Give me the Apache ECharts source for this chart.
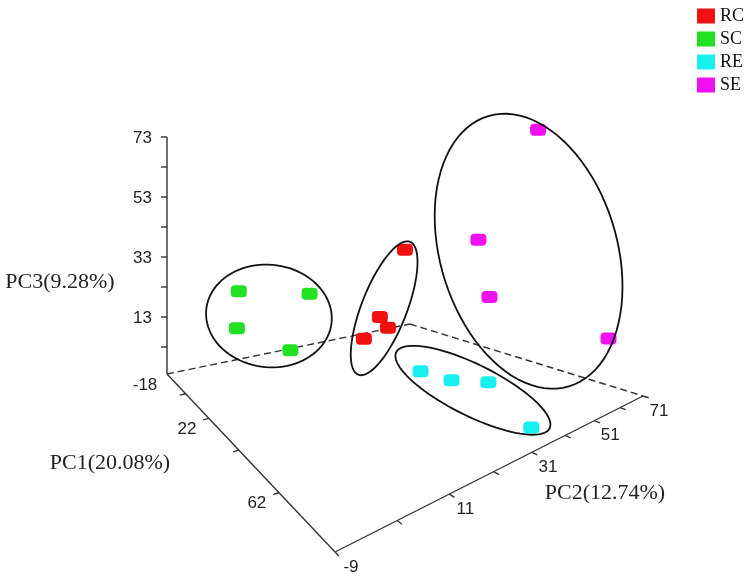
<!DOCTYPE html>
<html><head><meta charset="utf-8">
<script src="https://cdn.jsdelivr.net/npm/echarts@6/dist/echarts.min.js"></script>
<style>html,body{margin:0;padding:0;background:#fff}#chart{width:756px;height:584px}</style>
</head><body><div id="chart"></div>
<script>
// ---------------- data ----------------
const groups = ['RC', 'SC', 'RE', 'SE'];
const rcPC1 = [-13, -3, 2, 2];
const rcPC2 = [65.4, 48.9, 48.9, 40.2];
const rcPC3 = [29.2, 4.6, 1.4, -0.9];
const scPC1 = [-8, -8, -13, -3];
const scPC2 = [6.5, 6.0, 29.3, 19.1];
const scPC3 = [20.7, 8.2, 15.4, -1.3];
const rePC1 = [42, 52, 62, 80];
const rePC2 = [33.5, 35.4, 38.1, 33];
const rePC3 = [0.3, 0.1, 1.8, -1.8];
const sePC1 = [72, 42, 52, 77];
const sePC2 = [43.9, 52.8, 47.7, 63.7];
const sePC3 = [70.7, 38.5, 22, 11.4];

const pc1Range = [-18, 82];
const pc2Range = [-9, 71];
const pc3Range = [-6, 73];
const pc1Ticks = [2, 22, 42, 62];
const pc1Labels = [-18, 22, 62];
const pc2Ticks = [-9, 1, 11, 21, 31, 41, 51, 61, 71];
const pc2Labels = [-9, 11, 31, 51, 71];
const pc3Ticks = [3, 13, 23, 33, 43, 53, 63, 73];
const pc3Labels = [13, 33, 53, 73];
const axisNames = ['PC1(20.08%)', 'PC2(12.74%)', 'PC3(9.28%)'];

// ---------------- style / layout ----------------
const groupColors = ['#f01010', '#22e022', '#18f0f0', '#f010f0'];
const FLOOR = { A: [167, 374], B: [335, 552], C: [643, 396], D: [410, 324] };
const VTOP = 137;
const AXIS_COLOR = '#333';
const SANS = 'Liberation Sans, Arial, sans-serif';
const SERIF = 'Liberation Serif, Times New Roman, serif';
const ELL_K = 1.6, ELL_PAD = 12;

function homography(p0, p1, p2, p3) {
  const [x0, y0] = p0, [x1, y1] = p1, [x2, y2] = p2, [x3, y3] = p3;
  const dx1 = x1 - x2, dy1 = y1 - y2, dx2 = x3 - x2, dy2 = y3 - y2;
  const dx3 = x0 - x1 + x2 - x3, dy3 = y0 - y1 + y2 - y3;
  const den = dx1 * dy2 - dx2 * dy1;
  const g = (dx3 * dy2 - dx2 * dy3) / den;
  const h = (dx1 * dy3 - dx3 * dy1) / den;
  return {
    a: x1 - x0 + g * x1, b: x3 - x0 + h * x3, c: x0,
    d: y1 - y0 + g * y1, e: y3 - y0 + h * y3, f: y0, g, h
  };
}
const Hm = homography(FLOOR.A, FLOOR.B, FLOOR.C, FLOOR.D);
const vScale = FLOOR.A[1] - VTOP;

function project(p1, p2, p3) {
  const u = (p1 - pc1Range[0]) / (pc1Range[1] - pc1Range[0]);
  const v = (p2 - pc2Range[0]) / (pc2Range[1] - pc2Range[0]);
  const w = (p3 - pc3Range[0]) / (pc3Range[1] - pc3Range[0]);
  const den = Hm.g * u + Hm.h * v + 1;
  return [(Hm.a * u + Hm.b * v + Hm.c) / den, (Hm.d * u + Hm.e * v + Hm.f - vScale * w) / den];
}

const zip = (a, b, c) => a.map((x, i) => [x, b[i], c[i]]);
const groupData = [
  zip(rcPC1, rcPC2, rcPC3),
  zip(scPC1, scPC2, scPC3),
  zip(rePC1, rePC2, rePC3),
  zip(sePC1, sePC2, sePC3)
];

function line(p, q, dashed) {
  return {
    type: 'line', shape: { x1: p[0], y1: p[1], x2: q[0], y2: q[1] },
    style: { stroke: AXIS_COLOR, lineWidth: 1.4, lineDash: dashed ? [7, 4] : null }
  };
}
function text(str, x, y, font, align) {
  return {
    type: 'text', x: x, y: y,
    style: { text: str, font: font, fill: '#222', align: align || 'center', verticalAlign: 'middle' }
  };
}
function unitStep(p, q, len) {
  const dx = q[0] - p[0], dy = q[1] - p[1], l = Math.hypot(dx, dy);
  return [p[0] + dx / l * len, p[1] + dy / l * len];
}

function renderFrame() {
  const [x1min, x1max] = pc1Range, [x2min, x2max] = pc2Range, [x3min, x3max] = pc3Range;
  const A = project(x1min, x2min, x3min), B = project(x1max, x2min, x3min);
  const C = project(x1max, x2max, x3min), D = project(x1min, x2max, x3min);
  const T = project(x1min, x2min, x3max);
  const ch = [];
  ch.push(line(A, D, true), line(D, C, true));
  ch.push(line(A, B), line(B, C), line(A, T));
  pc3Ticks.forEach(t => {
    const p = project(x1min, x2min, t);
    ch.push(line([p[0] - 6, p[1]], p));
  });
  pc3Labels.forEach(t => {
    const p = project(x1min, x2min, t);
    ch.push(text(String(t), p[0] - 15, p[1] + 1, '17px ' + SANS, 'right'));
  });
  pc1Ticks.forEach(t => {
    const p = project(t, x2min, x3min);
    const q = unitStep(p, project(t, x2min - 5, x3min), 6);
    ch.push(line(p, q));
  });
  pc1Labels.forEach(t => {
    const p = project(t, x2min, x3min);
    ch.push(text(String(t), p[0] - 22, p[1] + 11, '17px ' + SANS));
  });
  pc2Ticks.forEach(t => {
    const p = project(x1max, t, x3min);
    const q = unitStep(p, project(x1max + 5, t, x3min), 6);
    ch.push(line(p, q));
  });
  pc2Labels.forEach(t => {
    const p = project(x1max, t, x3min);
    ch.push(text(String(t), p[0] + 16, p[1] + 15, '17px ' + SANS));
  });
  ch.push(text(axisNames[0], 110, 463, '22px ' + SERIF));
  ch.push(text(axisNames[1], 605, 493, '22px ' + SERIF));
  ch.push(text(axisNames[2], 60, 282, '22px ' + SERIF));
  return { type: 'group', children: ch };
}

function renderEllipses() {
  const ch = [];
  groupData.forEach(pts => {
    const pp = pts.map(d => project(d[0], d[1], d[2]));
    const n = pp.length;
    const mx = pp.reduce((s, p) => s + p[0], 0) / n;
    const my = pp.reduce((s, p) => s + p[1], 0) / n;
    let sxx = 0, syy = 0, sxy = 0;
    pp.forEach(p => { const dx = p[0] - mx, dy = p[1] - my; sxx += dx * dx; syy += dy * dy; sxy += dx * dy; });
    sxx /= n; syy /= n; sxy /= n;
    const ang = 0.5 * Math.atan2(2 * sxy, sxx - syy);
    const mean = (sxx + syy) / 2, diff = Math.sqrt(((sxx - syy) / 2) ** 2 + sxy * sxy);
    const r1 = ELL_K * Math.sqrt(mean + diff) + ELL_PAD;
    const r2 = ELL_K * Math.sqrt(Math.max(mean - diff, 0)) + ELL_PAD;
    const poly = [];
    for (let i = 0; i < 90; i++) {
      const t = i / 90 * Math.PI * 2;
      const ex = r1 * Math.cos(t), ey = r2 * Math.sin(t);
      poly.push([mx + ex * Math.cos(ang) - ey * Math.sin(ang), my + ex * Math.sin(ang) + ey * Math.cos(ang)]);
    }
    ch.push({ type: 'polygon', shape: { points: poly }, style: { fill: 'none', stroke: '#111', lineWidth: 1.8 } });
  });
  return { type: 'group', children: ch };
}

const chart = echarts.init(document.getElementById('chart'), null, { renderer: 'canvas' });
const series = [
  { type: 'custom', name: 'frame', coordinateSystem: 'none', silent: true, z: 1,
    data: [[0]], renderItem: () => renderFrame() }
];
groups.forEach((name, i) => {
  series.push({
    type: 'custom', name: name, coordinateSystem: 'none', z: 2,
    itemStyle: { color: groupColors[i] },
    data: groupData[i],
    renderItem: (params, api) => {
      const p = project(api.value(0), api.value(1), api.value(2));
      return { type: 'rect', shape: { x: p[0] - 8, y: p[1] - 6, width: 16, height: 12, r: 4 },
        style: { fill: groupColors[i] } };
    }
  });
});
series.push({ type: 'custom', name: 'ellipses', coordinateSystem: 'none', silent: true, z: 3,
  data: [[0]], renderItem: () => renderEllipses() });

chart.setOption({
  animation: false,
  backgroundColor: '#fff',
  color: groupColors,
  legend: {
    data: groups, orient: 'vertical', left: 692, top: 2, icon: 'rect',
    itemWidth: 18, itemHeight: 15, itemGap: 5, selectedMode: false,
    textStyle: { fontFamily: SERIF, fontSize: 18, color: '#111' }
  },
  series: series
});
</script></body></html>
